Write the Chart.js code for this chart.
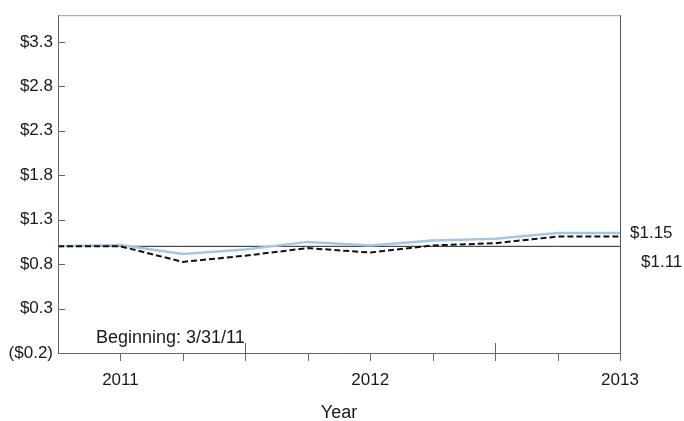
<!DOCTYPE html>
<html>
<head>
<meta charset="utf-8">
<script src="https://cdn.jsdelivr.net/npm/chart.js@4"></script>
<style>
  html, body { margin: 0; padding: 0; background: #fff; }
  #wrap { width: 684px; height: 421px; position: relative; }
</style>
</head>
<body>
<div id="wrap"><canvas id="c"></canvas></div>
<script>
// quarter index: 0 = 3/31/11 start, 9 = end of 2013 label
const quarters = [0, 1, 2, 3, 4, 5, 6, 7, 8, 9];
const blueSeries = [1.00, 1.015, 0.915, 0.965, 1.05, 1.01, 1.065, 1.085, 1.15, 1.15];
const blackSeries = [1.00, 1.00, 0.825, 0.895, 0.98, 0.93, 1.01, 1.035, 1.11, 1.11];
const baseline = [1, 1, 1, 1, 1, 1, 1, 1, 1, 1];
const yTicks = [-0.2, 0.3, 0.8, 1.3, 1.8, 2.3, 2.8, 3.3];
const yTickLabels = ["($0.2)", "$0.3", "$0.8", "$1.3", "$1.8", "$2.3", "$2.8", "$3.3"];
const xTickLabels = ["", "2011", "", "", "", "2012", "", "", "", "2013"];
const majorX = [3, 7];
const endLabels = ["$1.15", "$1.11"];

const FONT = "'Liberation Sans Narrow', 'Arial Narrow', 'Liberation Sans', Arial, sans-serif";
const TXT = "#1a1a1a";

const pts = (arr) => quarters.map((q, i) => ({ x: q, y: arr[i] }));

// box, inward y ticks, x ticks, annotations
const decor = {
  id: "decor",
  afterDraw(chart) {
    const { ctx, chartArea: a, scales: { x, y } } = chart;
    ctx.save();
    ctx.lineWidth = 1;
    // frame
    ctx.strokeStyle = "#9a9a9a";
    ctx.beginPath(); ctx.moveTo(a.left, a.top + 0.5); ctx.lineTo(a.right, a.top + 0.5); ctx.stroke();
    ctx.strokeStyle = "#555";
    ctx.beginPath(); ctx.moveTo(a.right + 0.5, a.top); ctx.lineTo(a.right + 0.5, a.bottom); ctx.stroke();
    ctx.strokeStyle = "#666";
    ctx.beginPath();
    ctx.moveTo(a.left + 0.5, a.top); ctx.lineTo(a.left + 0.5, a.bottom + 0.5);
    ctx.lineTo(a.right, a.bottom + 0.5);
    ctx.stroke();
    // y ticks (inside)
    ctx.beginPath();
    yTicks.forEach(v => {
      const py = Math.round(y.getPixelForValue(v)) + 0.5;
      ctx.moveTo(a.left, py); ctx.lineTo(a.left + 7, py);
    });
    // x ticks
    quarters.forEach(q => {
      if (q === 0) return;
      const px = Math.round(x.getPixelForValue(q)) + 0.5;
      const top = majorX.includes(q) ? a.bottom - 10 : a.bottom;
      ctx.moveTo(px, top); ctx.lineTo(px, a.bottom + 8);
    });
    ctx.stroke();
    // text
    ctx.fillStyle = TXT;
    ctx.font = "18px " + FONT;
    ctx.textBaseline = "middle";
    ctx.textAlign = "left";
    ctx.fillText("Beginning: 3/31/11", 96, a.bottom - 15);
    ctx.font = "17px " + FONT;
    const n = quarters.length - 1;
    ctx.fillText(endLabels[0], a.right + 10, y.getPixelForValue(blueSeries[n]));
    ctx.fillText(endLabels[1], a.right + 21, y.getPixelForValue(blackSeries[n]) + 26);
    ctx.restore();
  }
};

new Chart(document.getElementById("c"), {
  type: "line",
  data: {
    datasets: [
      { label: "base", data: pts(baseline), borderColor: "#222", borderWidth: 1, pointRadius: 0, order: 3 },
      { label: "blue", data: pts(blueSeries), borderColor: "#a4c6e3", borderWidth: 2.5, pointRadius: 0, order: 2 },
      { label: "black", data: pts(blackSeries), borderColor: "#111", borderWidth: 2, borderDash: [6, 3], pointRadius: 0, order: 1 },
    ],
  },
  options: {
    responsive: true, maintainAspectRatio: false,
    animation: false,
    layout: { padding: { top: 14, right: 64, left: 0, bottom: 0 } },
    plugins: { legend: { display: false }, tooltip: { enabled: false } },
    scales: {
      x: {
        type: "linear", min: 0, max: 9,
        afterBuildTicks: (s) => { s.ticks = quarters.map(v => ({ value: v })); },
        afterFit: (s) => { s.height = 68; },
        grid: { display: false, drawTicks: false },
        border: { display: false },
        ticks: {
          autoSkip: false, maxRotation: 0, padding: 17,
          color: TXT, font: { family: FONT, size: 17 },
          callback: (v) => xTickLabels[v] || "",
        },
        title: { display: true, text: "Year", color: TXT, font: { family: FONT, size: 18 }, padding: { top: 4, bottom: -3 } },
      },
      y: {
        min: -0.2, max: 3.6,
        afterBuildTicks: (s) => { s.ticks = yTicks.map(v => ({ value: v })); },
        afterFit: (s) => { s.width = 58; },
        grid: { display: false, drawTicks: false },
        border: { display: false },
        ticks: {
          autoSkip: false, padding: 5,
          color: TXT, font: { family: FONT, size: 17 },
          callback: (v) => { const i = yTicks.findIndex(t => Math.abs(t - v) < 1e-6); return i >= 0 ? yTickLabels[i] : ""; },
        },
      },
    },
  },
  plugins: [decor],
});
</script>
</body>
</html>
